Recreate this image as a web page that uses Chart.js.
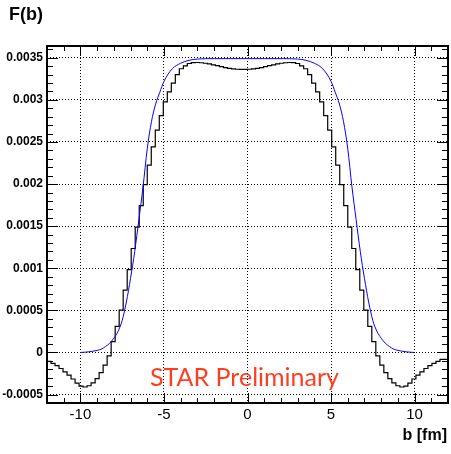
<!DOCTYPE html>
<html>
<head>
<meta charset="utf-8">
<script src="https://cdn.jsdelivr.net/npm/chart.js@4.4.0/dist/chart.umd.min.js"></script>
<style>
  html, body { margin: 0; padding: 0; background: #fff; }
  canvas { display: block; }
</style>
</head>
<body>
<canvas id="myChart" width="451" height="454"></canvas>
<script>
// histogram: 100 bins of 0.24 fm from -12 to 12
const binLow = -12;
const binWidth = 0.24;
const histValues = [
  -0.000082, -0.000105, -0.00013, -0.000155, -0.00019, -0.00023, -0.00027, -0.000315, -0.000365, -0.0004,
  -0.00041, -0.000395, -0.00036, -0.00031, -0.00024, -0.00015, -0.00004, 0.00013, 0.00031, 0.000502,
  0.00074, 0.000985, 0.001235, 0.00149, 0.001745, 0.001993, 0.002224, 0.002442, 0.00264, 0.002812,
  0.002976, 0.003095, 0.0032, 0.0033, 0.00337, 0.003405, 0.003432, 0.003442, 0.003444, 0.003441,
  0.003435, 0.003427, 0.003417, 0.003406, 0.003395, 0.003384, 0.003375, 0.003368, 0.003364, 0.003362,
  0.003362, 0.003364, 0.003368, 0.003375, 0.003384, 0.003395, 0.003406, 0.003417, 0.003427, 0.003435,
  0.003441, 0.003444, 0.003442, 0.003432, 0.003405, 0.00337, 0.0033, 0.0032, 0.003095, 0.002976,
  0.002812, 0.00264, 0.002442, 0.002224, 0.001993, 0.001745, 0.00149, 0.001235, 0.000985, 0.00074,
  0.000502, 0.00031, 0.00013, -0.00004, -0.00015, -0.00024, -0.00031, -0.00036, -0.000395, -0.00041,
  -0.0004, -0.000365, -0.000315, -0.00027, -0.00023, -0.00019, -0.000155, -0.00013, -0.000105, -0.000082
];

// smooth (blue) curve
const curveB = [-10, -9.5, -9, -8.75, -8.5, -8.25, -8, -7.75, -7.5, -7.25,
  -7, -6.75, -6.5, -6.25, -6, -5.75, -5.5, -5.25, -5, -4.5,
  -4, -3.5, -3, -2, -1, 0, 1, 2, 3, 3.5,
  4, 4.5, 5, 5.25, 5.5, 5.75, 6, 6.25, 6.5, 6.75,
  7, 7.25, 7.5, 7.75, 8, 8.25, 8.5, 8.75, 9, 9.5, 10];
const curveF = [0, 0.000008, 0.000025, 0.00004, 0.00007, 0.00011, 0.00017, 0.00025, 0.00038, 0.0006,
  0.00088, 0.0012, 0.00158, 0.00197, 0.00242, 0.00274, 0.00295, 0.00309, 0.00322, 0.00337,
  0.003435, 0.00347, 0.003485, 0.00349, 0.00349, 0.00349, 0.00349, 0.00349, 0.003485, 0.00347,
  0.003435, 0.00337, 0.00322, 0.00309, 0.00295, 0.00274, 0.00242, 0.00197, 0.00158, 0.0012,
  0.00088, 0.0006, 0.00038, 0.00025, 0.00017, 0.00011, 0.00007, 0.00004, 0.000025, 0.000008, 0];

const xTicks = [-10, -5, 0, 5, 10];
const yTicks = [-0.0005, 0, 0.0005, 0.001, 0.0015, 0.002, 0.0025, 0.003, 0.0035];

const histPoints = histValues.map((v, i) => ({ x: binLow + i * binWidth, y: v }));
histPoints.push({ x: binLow + histValues.length * binWidth, y: histValues[histValues.length - 1] });
const curvePoints = curveB.map((b, i) => ({ x: b, y: curveF[i] }));

// ROOT-like frame, inward ticks and labels
const rootFrame = {
  id: 'rootFrame',
  afterDraw(chart) {
    const { ctx, chartArea: a, scales: { x, y } } = chart;
    ctx.save();
    ctx.strokeStyle = '#000';
    ctx.lineWidth = 1;
    ctx.beginPath();
    for (let k = -6; k <= 36; k++) {
      const py = Math.round(y.getPixelForValue(k * 0.0001)) + 0.5;
      if (py < a.top || py > a.bottom) continue;
      const len = k % 5 === 0 ? 11 : 6;
      ctx.moveTo(a.left, py); ctx.lineTo(a.left + len, py);
      ctx.moveTo(a.right, py); ctx.lineTo(a.right - len, py);
    }
    for (let k = -12; k <= 12; k++) {
      const px = Math.round(x.getPixelForValue(k)) + 0.5;
      const len = k % 5 === 0 ? 10 : 5;
      ctx.moveTo(px, a.bottom); ctx.lineTo(px, a.bottom - len);
      ctx.moveTo(px, a.top); ctx.lineTo(px, a.top + len);
    }
    ctx.stroke();
    ctx.lineWidth = 2;
    ctx.strokeRect(a.left, a.top, a.right - a.left, a.bottom - a.top);

    ctx.fillStyle = '#000';
    ctx.textBaseline = 'alphabetic';
    ctx.textAlign = 'left';
    ctx.font = 'bold 18px "Liberation Sans", Arial, sans-serif';
    ctx.fillText('F(b)', 9, 20);
    ctx.textAlign = 'right';
    ctx.font = 'bold 16px "Liberation Sans", Arial, sans-serif';
    ctx.fillText('b [fm]', 447, 440);
    ctx.textAlign = 'left';
    ctx.fillStyle = '#ff3d20';
    ctx.font = '25px Lato, "Liberation Sans", sans-serif';
    ctx.fillText('STAR Preliminary', 150, 386);
    ctx.restore();
  }
};

new Chart(document.getElementById('myChart'), {
  type: 'line',
  data: {
    datasets: [{
      label: 'fit',
      data: curvePoints,
      borderColor: '#0000ff',
      borderWidth: 1,
      pointRadius: 0,
      cubicInterpolationMode: 'monotone',
      fill: false
    }, {
      label: 'F(b)',
      data: histPoints,
      borderColor: '#000',
      borderWidth: 1.2,
      pointRadius: 0,
      stepped: 'after',
      fill: false
    }]
  },
  options: {
    responsive: false,
    animation: false,
    devicePixelRatio: 1,
    layout: { padding: { top: 46, right: 3, left: 0, bottom: 0 } },
    plugins: { legend: { display: false }, tooltip: { enabled: false } },
    scales: {
      x: {
        type: 'linear',
        min: -12,
        max: 12,
        afterFit: s => { s.height = 51; },
        afterBuildTicks: s => { s.ticks = xTicks.map(v => ({ value: v })); },
        grid: { color: '#000', lineWidth: 1, drawTicks: false },
        border: { display: false, dash: [1, 2] },
        ticks: {
          autoSkip: false,
          maxRotation: 0,
          padding: 3,
          color: '#000',
          font: { family: '"Liberation Sans", Arial, sans-serif', size: 15 }
        }
      },
      y: {
        type: 'linear',
        min: -0.0006,
        max: 0.00364,
        afterFit: s => { s.width = 47; },
        afterBuildTicks: s => { s.ticks = yTicks.map(v => ({ value: v })); },
        grid: { color: '#000', lineWidth: 1, drawTicks: false },
        border: { display: false, dash: [1, 2] },
        ticks: {
          autoSkip: false,
          padding: 4,
          color: '#000',
          font: { family: '"Liberation Sans", Arial, sans-serif', size: 12, weight: 'bold' },
          callback: v => String(Number(v.toFixed(4)))
        }
      }
    }
  },
  plugins: [rootFrame]
});
</script>
</body>
</html>
